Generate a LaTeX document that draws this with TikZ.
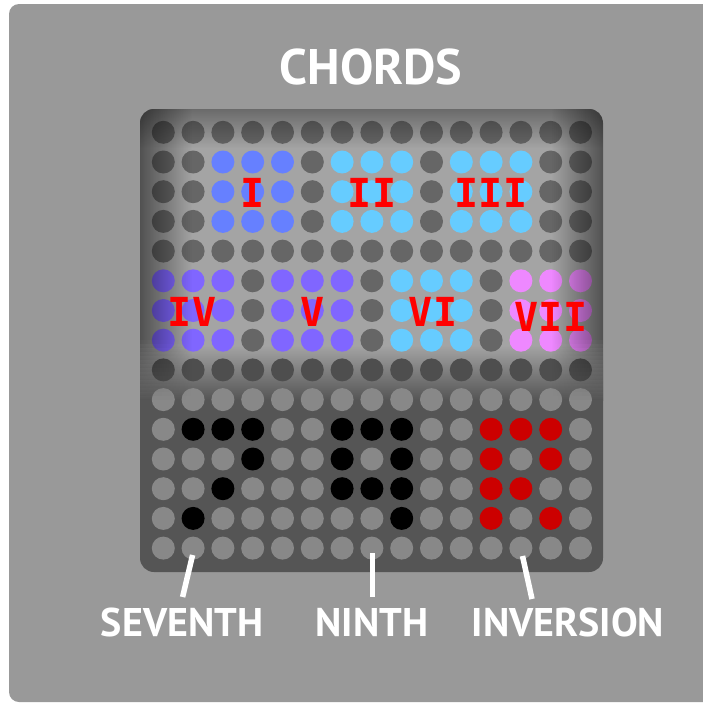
\documentclass[tikz,border=0pt]{standalone}
\usepackage{fontspec}
\newfontfamily\labfont{PT Sans}
\newfontfamily\numfont{DejaVu Sans Mono}
\usetikzlibrary{fadings}
\definecolor{pagebg}{HTML}{999999}
\definecolor{toppanel}{HTML}{A4A4A4}
\definecolor{lowpanel}{HTML}{555555}
\definecolor{cellt}{HTML}{666666}
\definecolor{celld}{HTML}{4E4E4E}
\definecolor{cellb}{HTML}{6680FF}
\definecolor{cellc}{HTML}{66CCFF}
\definecolor{cellp}{HTML}{8066FF}
\definecolor{cellk}{HTML}{EE88FF}
\definecolor{celll}{HTML}{888888}
\definecolor{cellx}{HTML}{000000}
\definecolor{cellr}{HTML}{CC0000}
\definecolor{numred}{HTML}{FF0000}
\begin{document}
\begin{tikzpicture}[x=1pt,y=-1pt,
  dot/.style={circle,minimum size=23pt,inner sep=0pt},
  numeral/.style={text=numred,inner sep=0pt,font=\numfont\bfseries\fontsize{40}{40}\selectfont},
  caption/.style={text=white,inner sep=0pt,font=\labfont\bfseries\fontsize{40}{40}\selectfont},
  tickline/.style={draw=white,line width=5.5pt}]
\useasboundingbox (0,0) rectangle (702,704);
\fill[pagebg,rounded corners=10pt] (9,4) rectangle (716,702);
% panel
\fill[lowpanel,rounded corners=14pt] (140,109) rectangle (603,572);
\begin{scope}
  \clip[rounded corners=14pt] (140,109) rectangle (603,440);
  \fill[toppanel] (140,109) rectangle (603,346);
  \shade[top color=toppanel,bottom color=lowpanel] (140,345) rectangle (603,400);
\end{scope}
% cells
\foreach \r/\row in {
 0/{t,t,t,t,t,t,t,t,t,t,t,t,t,t,t},
 1/{t,t,b,b,b,t,c,c,c,t,c,c,c,t,t},
 2/{t,t,b,b,b,t,c,c,c,t,c,c,c,t,t},
 3/{t,t,b,b,b,t,c,c,c,t,c,c,c,t,t},
 4/{t,t,t,t,t,t,t,t,t,t,t,t,t,t,t},
 5/{p,p,p,t,p,p,p,t,c,c,c,t,k,k,k},
 6/{p,p,p,t,p,p,p,t,c,c,c,t,k,k,k},
 7/{p,p,p,t,p,p,p,t,c,c,c,t,k,k,k},
 8/{d,d,d,d,d,d,d,d,d,d,d,d,d,d,d},
 9/{l,l,l,l,l,l,l,l,l,l,l,l,l,l,l},
 10/{l,x,x,x,l,l,x,x,x,l,l,r,r,r,l},
 11/{l,l,l,x,l,l,x,l,x,l,l,r,l,r,l},
 12/{l,l,x,l,l,l,x,x,x,l,l,r,r,l,l},
 13/{l,x,l,l,l,l,l,l,x,l,l,r,l,r,l},
 14/{l,l,l,l,l,l,l,l,l,l,l,l,l,l,l}}{
  \foreach \k [count=\c from 0] in \row {
    \node[dot,fill=cell\k] (c-\r-\c) at ({163.3+29.8*\c},{132.3+29.7*\r}) {};
  }
}
% vignette over upper area
\begin{scope}
  \clip[rounded corners=14pt] (140,109) rectangle (603,440);
  \fill[black,fill opacity=0.5,path fading=east] (140,109) rectangle (192,340);
  \fill[black,fill opacity=0.5,path fading=west] (551,109) rectangle (603,340);
  \foreach \i in {0,...,14} {
    \pgfmathsetmacro\op{0.5*(1-(\i+0.5)/15)}
    \fill[black,fill opacity=\op,path fading=east] (140,{340+4*\i}) rectangle (192,{344+4*\i});
    \fill[black,fill opacity=\op,path fading=west] (551,{340+4*\i}) rectangle (603,{344+4*\i});
  }
  \fill[black,fill opacity=0.35,path fading=south] (140,109) rectangle (603,148);
\end{scope}
% numerals
\node[numeral] (nI)   at (252.5,192.5) {I};
\node[numeral] (nII)  at (372,192.5) {II};
\node[numeral] (nIII) at (491,192.5) {III};
\node[numeral] (nIV)  at (192,311.5) {IV};
\node[numeral] (nV)   at (312.5,311.5) {V};
\node[numeral] (nVI)  at (433,312) {VI};
\node[numeral] (nVII) at (551,316.5) {VII};
% captions
\node[caption,font=\labfont\bfseries\fontsize{50}{50}\selectfont] (title) at (371,67) {CHORDS};
\node[caption] (seventh) at (182,622) {SEVENTH};
\node[caption] (ninth) at (372,622) {NINTH};
\node[caption] (inversion) at (568,622) {INVERSION};
% ticks
\coordinate (t1a) at (192.6,555);
\coordinate (t1b) at (182.6,597);
\coordinate (t2a) at (372.6,553);
\coordinate (t2b) at (372.6,597);
\coordinate (t3a) at (522.5,556);
\coordinate (t3b) at (532,599);
\draw[tickline] (t1a) -- (t1b);
\draw[tickline] (t2a) -- (t2b);
\draw[tickline] (t3a) -- (t3b);
\end{tikzpicture}
\end{document}
